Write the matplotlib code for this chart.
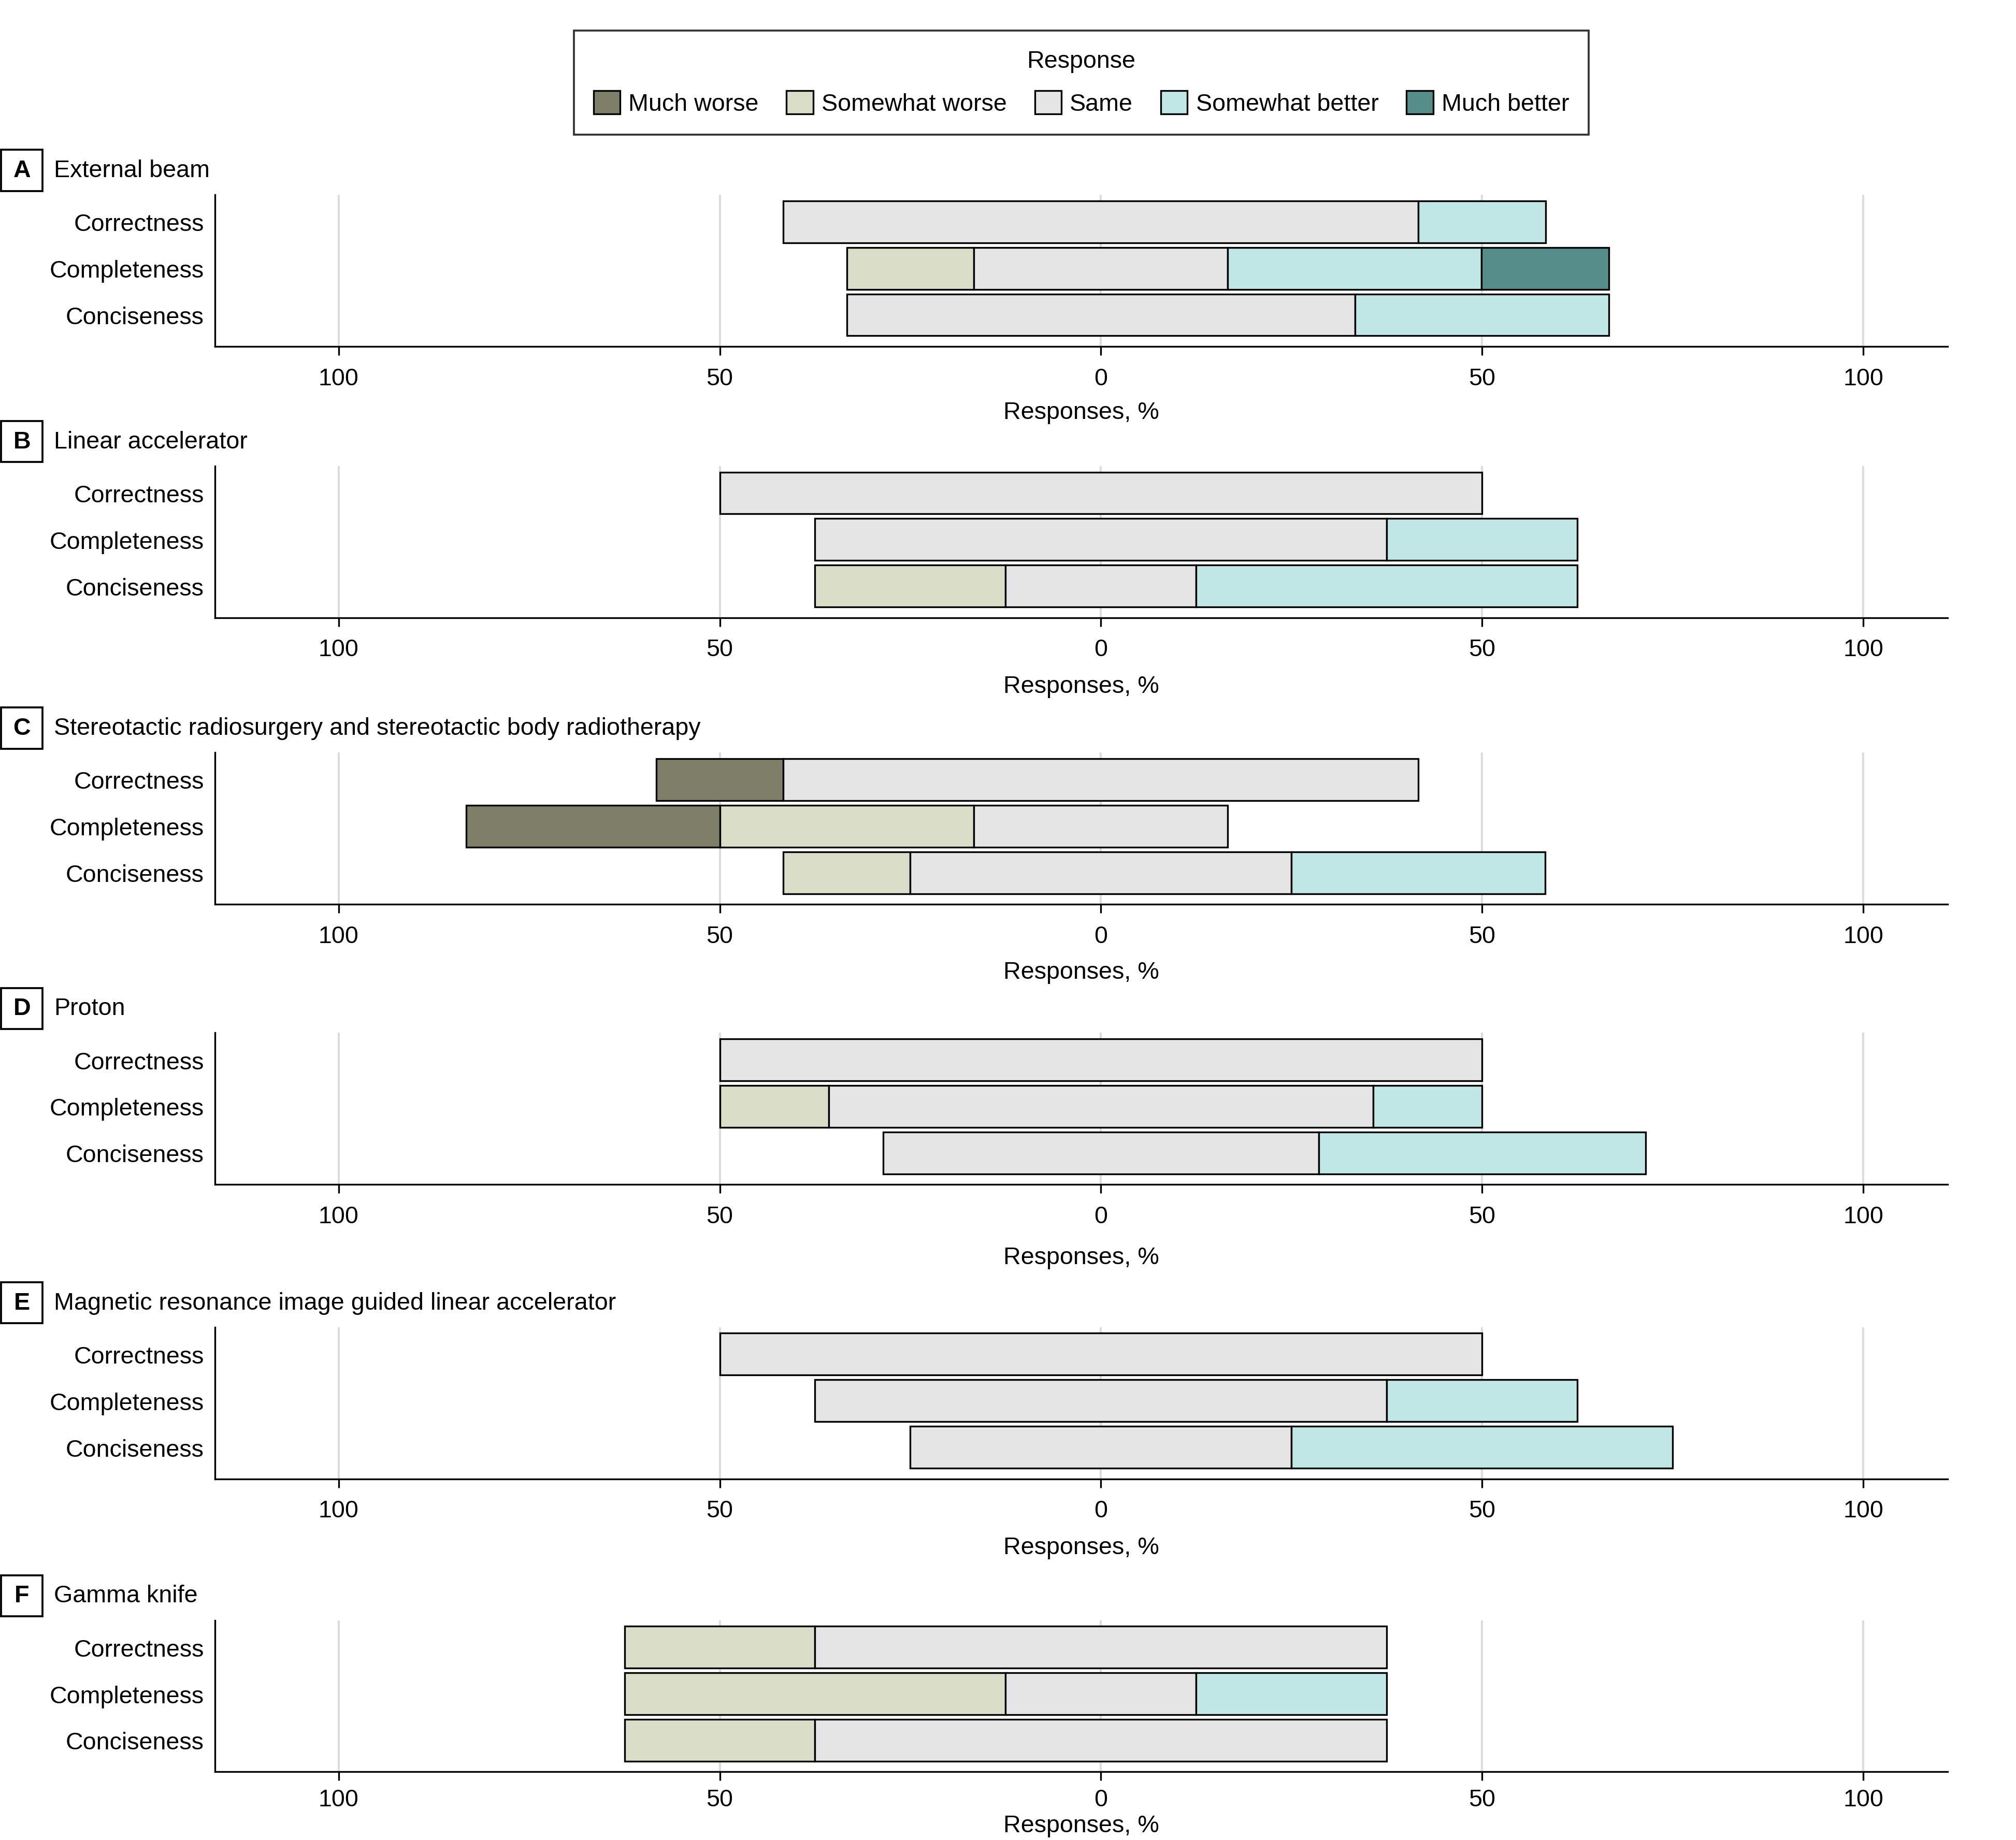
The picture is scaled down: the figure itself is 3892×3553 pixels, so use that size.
import numpy as np
import matplotlib
matplotlib.use("Agg")
import matplotlib.pyplot as plt
from matplotlib import font_manager
from matplotlib.patches import Rectangle

# narrow font if we have it, else regular Liberation Sans a bit smaller
installed = {f.name for f in font_manager.fontManager.ttflist}
if "Liberation Sans Narrow" in installed:
    plt.rcParams["font.family"] = ["Liberation Sans Narrow", "DejaVu Sans"]
    fs = 12.5
else:
    plt.rcParams["font.family"] = ["Liberation Sans", "DejaVu Sans"]
    fs = 11.2
plt.rcParams["font.size"] = fs

# ----------
# Data (percent of responses)
# ----------
responses = ["Much worse", "Somewhat worse", "Same", "Somewhat better", "Much better"]
colors = ["#7f7f69", "#dadec8", "#e5e5e5", "#c0e6e5", "#568d8b"]
metrics = ["Correctness", "Completeness", "Conciseness"]
panel_letters = ["A", "B", "C", "D", "E", "F"]
panel_titles = [
    "External beam",
    "Linear accelerator",
    "Stereotactic radiosurgery and stereotactic body radiotherapy",
    "Proton",
    "Magnetic resonance image guided linear accelerator",
    "Gamma knife",
]

# rows: Correctness, Completeness, Conciseness; cols: responses
external_beam = [[0, 0, 83.3, 16.7, 0],
                 [0, 16.7, 33.3, 33.3, 16.7],
                 [0, 0, 66.7, 33.3, 0]]
linear_acc = [[0, 0, 100, 0, 0],
              [0, 0, 75, 25, 0],
              [0, 25, 25, 50, 0]]
srs_sbrt = [[16.7, 0, 83.3, 0, 0],
            [33.3, 33.3, 33.3, 0, 0],
            [0, 16.7, 50, 33.3, 0]]
proton = [[0, 0, 100, 0, 0],
          [0, 14.3, 71.4, 14.3, 0],
          [0, 0, 57.1, 42.9, 0]]
mr_linac = [[0, 0, 100, 0, 0],
            [0, 0, 75, 25, 0],
            [0, 0, 50, 50, 0]]
gamma_knife = [[0, 25, 75, 0, 0],
               [0, 50, 25, 25, 0],
               [0, 25, 75, 0, 0]]
panels = [external_beam, linear_acc, srs_sbrt, proton, mr_linac, gamma_knife]

# ----------
# Layout (positions in pixels of a 1568x1432 canvas)
# ----------
W, H = 1568, 1432
ax_left, ax_right = 167, 1515
ax_tops = [152, 363, 586, 804, 1033, 1261]
ax_h = 118
tick_pads = [5.5, 5.5, 5.5, 5.5, 5.5, 3.5]
label_pads = [5, 6.5, 6, 8.5, 6.5, 1.5]

fig = plt.figure(figsize=(3892 / 300, 3554 / 300), dpi=300)

for i, data in enumerate(panels):
    top = ax_tops[i]
    ax = fig.add_axes([ax_left / W, 1 - (top + ax_h) / H,
                       (ax_right - ax_left) / W, ax_h / H])
    vals = np.array(data, dtype=float)
    y = np.arange(len(metrics))
    start = -(vals[:, 0] + vals[:, 1] + vals[:, 2] / 2)
    for r in range(len(metrics)):
        left = start[r]
        for k in range(len(responses)):
            w = vals[r, k]
            if w > 0:
                ax.barh(y[r], w, left=left, height=0.9, color=colors[k],
                        edgecolor="black", linewidth=0.8, zorder=3)
            left += w

    ax.set_xlim(-116.25, 111.1)
    ax.set_ylim(2.68, -0.58)
    ax.set_yticks(y)
    ax.set_yticklabels(metrics)
    ax.tick_params(axis="y", length=0, pad=5)
    ax.set_xticks([-100, -50, 0, 50, 100])
    ax.set_xticklabels(["100", "50", "0", "50", "100"])
    ax.tick_params(axis="x", length=4, width=0.8, pad=tick_pads[i])
    ax.grid(axis="x", color="#dcdcdc", linewidth=1.0, zorder=0)
    ax.set_axisbelow(True)
    for s in ["top", "right"]:
        ax.spines[s].set_visible(False)
    for s in ["left", "bottom"]:
        ax.spines[s].set_linewidth(0.8)
    ax.set_xlabel("Responses, %", labelpad=label_pads[i])

    # panel letter box and title
    yc = 1 - (top - 19) / H
    bw, bh = 32 / W, 32 / H
    fig.patches.append(Rectangle((1 / W, yc - bh / 2), bw, bh,
                                 transform=fig.transFigure, fill=False,
                                 edgecolor="black", linewidth=0.9))
    fig.text(1 / W + bw / 2, yc, panel_letters[i], ha="center", va="center",
             fontweight="bold")
    fig.text(42 / W, yc, panel_titles[i], ha="left", va="center")

# legend
handles = [Rectangle((0, 0), 1, 1, facecolor=c, edgecolor="black", linewidth=0.8)
           for c in colors]
leg = fig.legend(handles, responses, loc="upper center",
                 bbox_to_anchor=((ax_left + ax_right) / 2 / W, 1 - 24 / H),
                 borderaxespad=0, ncol=5, title="Response", frameon=True,
                 fancybox=False, edgecolor="black", handlelength=1.1,
                 handleheight=1.1, handletextpad=0.35, columnspacing=1.15,
                 borderpad=0.8, labelspacing=0.75)
leg.get_frame().set_linewidth(0.9)

fig.savefig("out.png", dpi=300, facecolor="white")
